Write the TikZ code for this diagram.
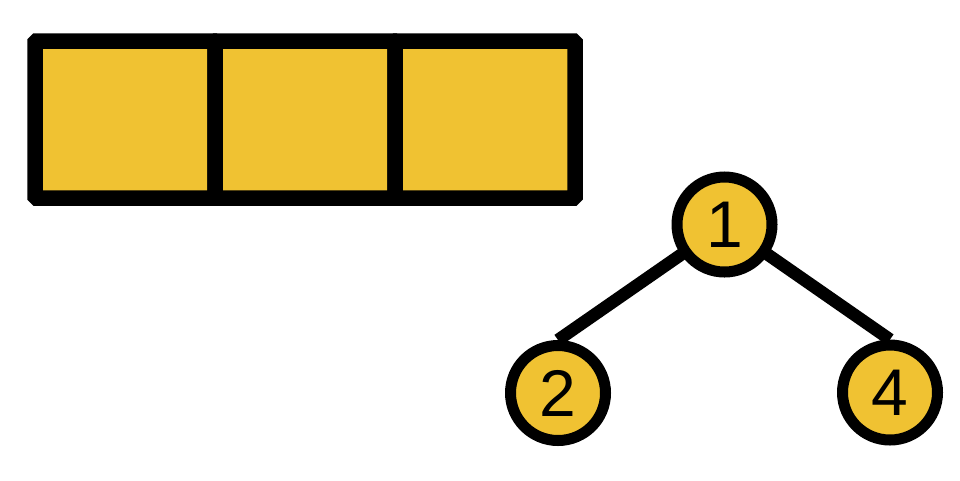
\documentclass[tikz,border=0pt]{standalone}
\usepackage{fontspec}
\setmainfont{Liberation Sans}
\usetikzlibrary{backgrounds}
\definecolor{cellyellow}{RGB}{240,194,50}
\begin{document}
\begin{tikzpicture}[x=1pt,y=-1pt,
  cell/.style={draw=black,fill=cellyellow,line width=15.5pt,rectangle,
    minimum width=180pt,minimum height=157pt,inner sep=0pt,rounded corners=1.5pt},
  treenode/.style={draw=black,fill=cellyellow,line width=11pt,circle,
    minimum size=95pt,inner sep=0pt,font=\fontsize{66}{70}\selectfont},
  edge/.style={draw=black,line width=12.5pt}]
\useasboundingbox (0,0) rectangle (960,480);
\node[cell] (c1) at (125,119.5) {};
\node[cell] (c2) at (305,119.5) {};
\node[cell] (c3) at (485,119.5) {};
\node[treenode] (n1) at (724.5,224.5) {1};
\node[treenode] (n2) at (558,393) {2};
\node[treenode] (n4) at (890,392.5) {4};
\begin{pgfonlayer}{background}
\draw[edge] (n1.center) -- (n2.north);
\draw[edge] (n1.center) -- (n4.north);
\end{pgfonlayer}
\end{tikzpicture}
\end{document}
